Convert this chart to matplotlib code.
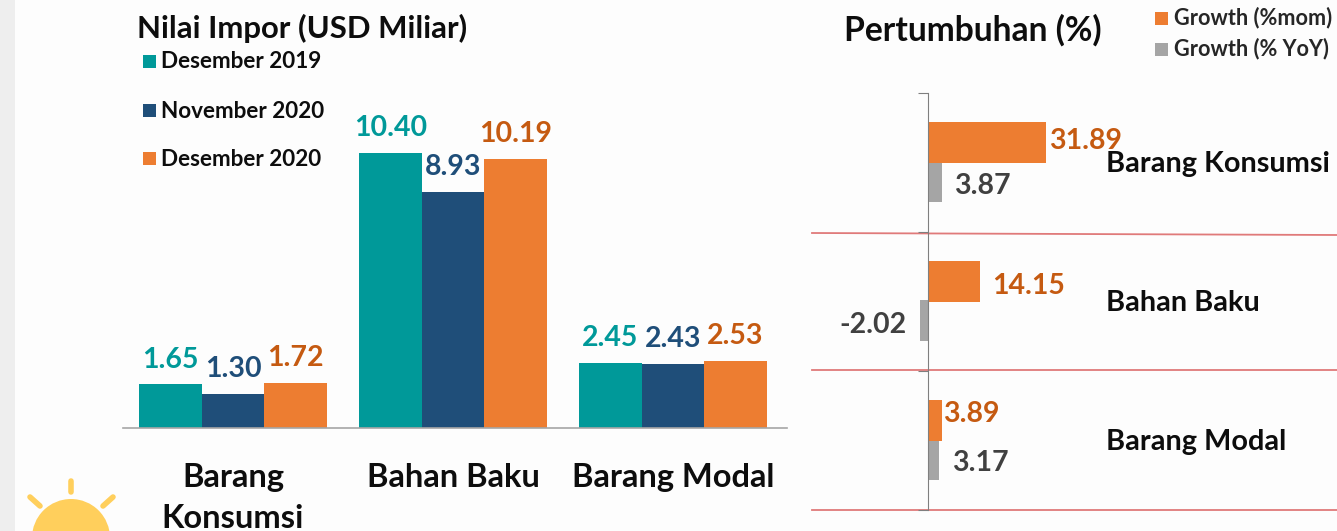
import matplotlib
matplotlib.use("Agg")
import matplotlib.pyplot as plt
from matplotlib.patches import Circle, Rectangle

W, H = 1337, 531
plt.rcParams['font.family'] = ['Lato', 'DejaVu Sans']
plt.rcParams['font.weight'] = 'bold'

categories = ["Barang\nKonsumsi", "Bahan Baku", "Barang Modal"]
series_names = ["Desember 2019", "November 2020", "Desember 2020"]
des_2019 = [1.65, 10.40, 2.45]
nov_2020 = [1.30, 8.93, 2.43]
des_2020 = [1.72, 10.19, 2.53]
growth_cats = ["Barang Konsumsi", "Bahan Baku", "Barang Modal"]
growth_mom = [31.89, 14.15, 3.89]
growth_yoy = [3.87, -2.02, 3.17]

TEAL, NAVY, ORANGE, GREY = '#009999', '#1F4E79', '#ED7D31', '#A5A5A5'
TXT_TEAL, TXT_NAVY, TXT_OR, TXT_GR = '#009999', '#1F4E79', '#C55A11', '#404040'
RED = '#E07A7A'

fig = plt.figure(figsize=(W/100, H/100), dpi=100, facecolor='#FDFDFD')
bg = fig.add_axes([0, 0, 1, 1])
bg.set_xlim(0, W); bg.set_ylim(H, 0); bg.axis('off')
bg.add_patch(Rectangle((0, 0), 15, H, color='#EEEEEE', lw=0))
bg.add_patch(Circle((71, 538), 39, color='#FFCF5C', lw=0))
for (x0, y0, x1, y1) in [(71, 481, 71, 492), (30, 497, 40, 506), (113, 497, 103, 506)]:
    bg.plot([x0, x1], [y0, y1], color='#FFCF5C', lw=4, solid_capstyle='round')
for y0, y1 in [(233, 235), (370, 370), (510, 510)]:
    bg.plot([812, W], [y0, y1], color=RED, lw=1.3)

def ax_px(l, t, r, b):
    return fig.add_axes([l/W, 1-b/H, (r-l)/W, (b-t)/H])

# Left chart
ax = ax_px(123, 50, 787, 428)
ax.patch.set_alpha(0)
ax.set_xlim(-0.5, 2.518)
ax.set_ylim(0, 378/26.44)
bw = 62.5/220
for off, vals, c, tc in [(-1, des_2019, TEAL, TXT_TEAL), (0, nov_2020, NAVY, TXT_NAVY), (1, des_2020, ORANGE, TXT_OR)]:
    for i, v in enumerate(vals):
        ax.bar(i + off*bw, v, bw, color=c, lw=0)
        ax.annotate(f"{v:.2f}", (i + off*bw, v), xytext=(0, 8.5), textcoords='offset points',
                    ha='center', va='bottom', color=tc, fontsize=20.5)
for s in ['top', 'left', 'right']:
    ax.spines[s].set_visible(False)
ax.spines['bottom'].set_color('#A6A6A6'); ax.spines['bottom'].set_linewidth(1.2)
ax.set_yticks([])
ax.set_xticks(range(3))
ax.set_xticklabels(categories, fontsize=23.5, color='#0D0D0D', linespacing=1.53)
ax.tick_params(axis='x', length=0, pad=25)

# Right chart
ar = ax_px(812, 92.5, W, 509.5)
ar.patch.set_alpha(0)
unit = 118/31.89
ar.set_xlim(-(927.5-812)/unit, (W-927.5)/unit)
ar.set_ylim(2.5, -0.5)
h = 40.5/139
offs = 19.5/139
for i, (m, y) in enumerate(zip(growth_mom, growth_yoy)):
    ar.barh(i + offs, y, h, color=GREY, lw=0)
    ar.barh(i - offs, m, h, color=ORANGE, lw=0)
mom_dx = [4, 12, 1]
yoy_dx = [12, -14, 13]
mom_dy = [-2, 4, -7]
yoy_dy = [4, 4, 3]
for i, (m, y) in enumerate(zip(growth_mom, growth_yoy)):
    ar.annotate(f"{m:.2f}", (m, i - offs), xytext=(mom_dx[i]*0.72, -mom_dy[i]*0.72), textcoords='offset points',
                ha='left', va='center', color=TXT_OR, fontsize=20.5)
    ar.annotate(f"{y:.2f}", (y, i + offs), xytext=(yoy_dx[i]*0.72, -yoy_dy[i]*0.72), textcoords='offset points',
                ha='left' if y > 0 else 'right', va='center', color=TXT_GR, fontsize=20.5)
    ar.annotate(growth_cats[i], ((1106-927.5)/unit, i), xytext=(0, -1.5), textcoords='offset points',
                ha='left', va='center', fontsize=20.8, color='#0D0D0D')
for s in ['top', 'bottom', 'right']:
    ar.spines[s].set_visible(False)
ar.spines['left'].set_position(('data', 0))
ar.spines['left'].set_color('#7F7F7F')
ar.set_xticks([])
ar.set_yticks([-0.5, 0.5, 1.5, 2.5])
ar.set_yticklabels([])
ar.tick_params(axis='y', length=7, color='#7F7F7F', width=0.8)

# Titles and legends
bg.text(137, 28, "Nilai Impor (USD Miliar)", fontsize=22.4, color='#0D0D0D', va='center')
bg.text(844, 30, "Pertumbuhan (%)", fontsize=24.2, color='#0D0D0D', va='center')
for y, n, c in zip([61, 110, 158], series_names, [TEAL, NAVY, ORANGE]):
    bg.add_patch(Rectangle((143, y-6), 13, 13, color=c, lw=0))
    bg.text(161, y+1, n, fontsize=16.2, color='#0D0D0D', va='center')
for y, n, c in zip([18, 49], ["Growth (%mom)", "Growth (% YoY)"], [ORANGE, GREY]):
    bg.add_patch(Rectangle((1155, y-6), 13, 13, color=c, lw=0))
    bg.text(1174, y, n, fontsize=15.6, color='#262626', va='center')

fig.savefig('out.png', dpi=100, facecolor=fig.get_facecolor())
